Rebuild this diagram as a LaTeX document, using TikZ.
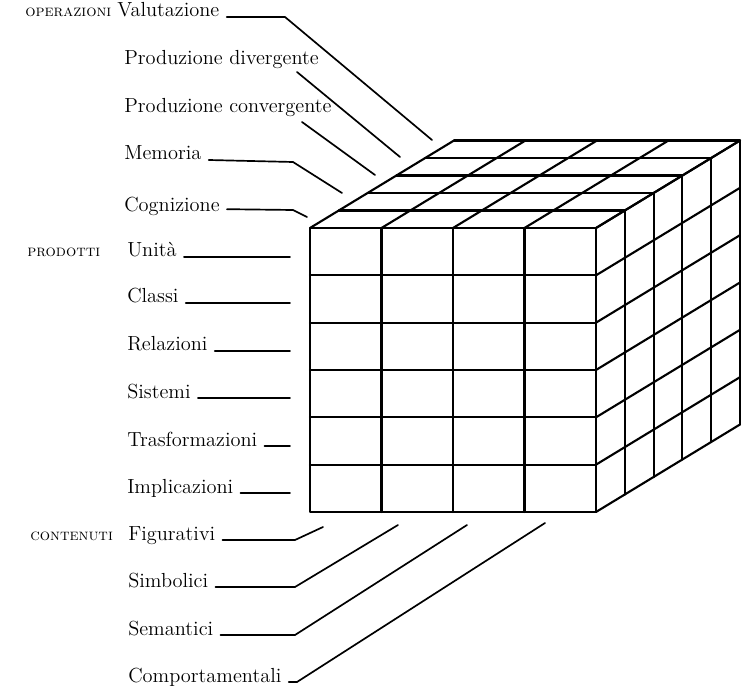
\documentclass[tikz,border=0pt]{standalone}
\usepackage{amsmath}
\usepackage{amssymb}
\usepackage{pgf,tikz}
\usetikzlibrary{arrows}

\tikzset{
  lbl/.style={anchor=base west,inner sep=0pt,font=\fontsize{14.5}{17}\selectfont},
  sclbl/.style={anchor=base west,inner sep=0pt,font=\fontsize{11.5}{13}\selectfont\scshape},
  cubo/.style={line width=1.5pt},
  guida/.style={line width=1.2pt}
}

\begin{document}
\begin{tikzpicture}[line cap=round,line join=round,x=0.025cm,y=-0.025cm]
\useasboundingbox (0,0) rectangle (742,688);
\def\w{71.5}
\def\h{47.33}
\def\dx{28.8}
\def\dy{-17.5}
% faccia frontale
\draw[cubo] (310,228) rectangle (596,512);
\foreach \i in {1,2,3} \draw[cubo] ({310+\i*\w},228) -- ({310+\i*\w},512);
\foreach \j in {1,...,5} \draw[cubo] (310,{228+\j*\h}) -- (596,{228+\j*\h});
% faccia superiore
\foreach \i in {0,...,4} \draw[cubo] ({310+\i*\w},228) -- ++({5*\dx},{5*\dy});
\foreach \k in {1,...,5} \draw[cubo] ({310+\k*\dx},{228+\k*\dy}) -- ++(286,0);
% faccia laterale
\foreach \k in {1,...,5} \draw[cubo] ({596+\k*\dx},{228+\k*\dy}) -- ++(0,284);
\foreach \j in {0,...,6} \draw[cubo] (596,{228+\j*\h}) -- ++({5*\dx},{5*\dy});

% operazioni
\node[sclbl] (operazioni) at (25,17) {operazioni};
\node[lbl] (valutazione) at (117,17) {Valutazione};
\node[lbl] (divergente) at (124,65) {Produzione divergente};
\node[lbl] (convergente) at (124,113) {Produzione convergente};
\node[lbl] (memoria) at (124,160) {Memoria};
\node[lbl] (cognizione) at (124,212) {Cognizione};
\coordinate (op5b) at (285,17);
\coordinate (op5) at (432,140);
\coordinate (op4a) at (297,72);
\coordinate (op4) at (400,157);
\coordinate (op3a) at (302,122);
\coordinate (op3) at (375,175);
\coordinate (op2b) at (293,162);
\coordinate (op2) at (342,193);
\coordinate (op1b) at (293,210);
\coordinate (op1) at (307,217);
\draw[guida] ([xshift=5pt]valutazione.base east) -- (op5b) -- (op5);
\draw[guida] (op4a) -- (op4);
\draw[guida] (op3a) -- (op3);
\draw[guida] ([xshift=5pt]memoria.base east) -- (op2b) -- (op2);
\draw[guida] ([xshift=5pt,yshift=2pt]cognizione.base east) -- (op1b) -- (op1);

% prodotti
\node[sclbl] (prodotti) at (27,257) {prodotti};
\node[lbl] (unita) at (127,257) {Unità};
\node[lbl] (classi) at (127,303) {Classi};
\node[lbl] (relazioni) at (127,351) {Relazioni};
\node[lbl] (sistemi) at (127,398) {Sistemi};
\node[lbl] (trasformazioni) at (127,446) {Trasformazioni};
\node[lbl] (implicazioni) at (127,493) {Implicazioni};
\coordinate (pr1) at (290,257);
\coordinate (pr2) at (290,303);
\coordinate (pr3) at (290,351);
\coordinate (pr4) at (290,398);
\coordinate (pr5) at (290,446);
\coordinate (pr6) at (290,493);
\draw[guida] ([xshift=5pt]unita.base east) -- (pr1);
\draw[guida] ([xshift=5pt]classi.base east) -- (pr2);
\draw[guida] ([xshift=5pt]relazioni.base east) -- (pr3);
\draw[guida] ([xshift=5pt]sistemi.base east) -- (pr4);
\draw[guida] ([xshift=5pt]trasformazioni.base east) -- (pr5);
\draw[guida] ([xshift=5pt]implicazioni.base east) -- (pr6);

% contenuti
\node[sclbl] (contenuti) at (30,540) {contenuti};
\node[lbl] (figurativi) at (128,540) {Figurativi};
\node[lbl] (simbolici) at (128,587) {Simbolici};
\node[lbl] (semantici) at (128,635) {Semantici};
\node[lbl] (comportamentali) at (128,682) {Comportamentali};
\coordinate (co1b) at (295,540);
\coordinate (co1) at (323,527);
\coordinate (co2b) at (295,587);
\coordinate (co2) at (398,525);
\coordinate (co3b) at (295,635);
\coordinate (co3) at (467,525);
\coordinate (co4b) at (297,682);
\coordinate (co4) at (545,523);
\draw[guida] ([xshift=5pt]figurativi.base east) -- (co1b) -- (co1);
\draw[guida] ([xshift=5pt]simbolici.base east) -- (co2b) -- (co2);
\draw[guida] ([xshift=5pt]semantici.base east) -- (co3b) -- (co3);
\draw[guida] ([xshift=5pt]comportamentali.base east) -- (co4b) -- (co4);
\end{tikzpicture}
\end{document}
